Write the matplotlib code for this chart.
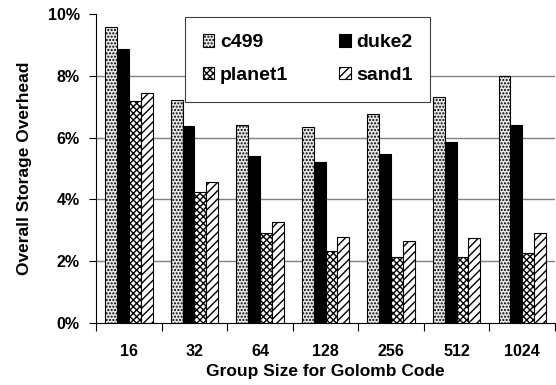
import matplotlib
matplotlib.use('Agg')
import matplotlib.pyplot as plt
import numpy as np

plt.rcParams['font.family'] = ['Liberation Sans', 'DejaVu Sans']
plt.rcParams['font.weight'] = 'bold'
plt.rcParams['hatch.linewidth'] = 1.0

groups = ['16', '32', '64', '128', '256', '512', '1024']
series = ['c499', 'duke2', 'planet1', 'sand1']
c499 = [9.57, 7.21, 6.40, 6.35, 6.75, 7.30, 8.00]
duke2 = [8.87, 6.37, 5.40, 5.22, 5.47, 5.87, 6.39]
planet1 = [7.19, 4.25, 2.90, 2.32, 2.15, 2.15, 2.28]
sand1 = [7.44, 4.57, 3.27, 2.77, 2.65, 2.74, 2.92]
values = [c499, duke2, planet1, sand1]

styles = [
    dict(facecolor='#e8e8e8', hatch='.....'),
    dict(facecolor='black', hatch=None),
    dict(facecolor='white', hatch='xxxxx'),
    dict(facecolor='white', hatch='////'),
]

fig = plt.figure(figsize=(5.56, 3.85), dpi=100)
ax = fig.add_axes([0.173, 0.161, 0.825, 0.803])

x = np.arange(len(groups))
w = 0.18
bars = []
for i, (name, vals, st) in enumerate(zip(series, values, styles)):
    b = ax.bar(x + (i - 1.5) * w, vals, w, label=name, edgecolor='black',
               linewidth=0.8, zorder=3, **st)
    bars.append(b)

for v in [2, 4, 6, 8]:
    ax.axhline(v, color='#808080', linewidth=1.0, zorder=1)

ax.set_ylim(0, 10)
ax.set_xlim(-0.5, len(groups) - 0.5)
ax.set_yticks([0, 2, 4, 6, 8, 10])
ax.set_yticklabels(['%d%%' % t for t in [0, 2, 4, 6, 8, 10]])
ax.set_xticks(x)
ax.set_xticklabels(groups)
ax.set_xticks(np.arange(len(groups) + 1) - 0.5, minor=True)
ax.tick_params(axis='x', which='major', length=0, pad=15, labelsize=11.5)
ax.tick_params(axis='x', which='minor', length=6, width=0.8, direction='out')
ax.tick_params(axis='y', length=5, width=0.8, direction='out', labelsize=11.5, pad=7)
for s in ['top', 'right']:
    ax.spines[s].set_visible(False)
ax.spines['left'].set_linewidth(0.8)
ax.spines['bottom'].set_linewidth(0.8)

ax.set_xlabel('Group Size for Golomb Code', fontsize=12.5, fontweight='bold', labelpad=4)
ax.set_ylabel('Overall Storage Overhead', fontsize=12.5, fontweight='bold', labelpad=11)

# legend rows: c499 / duke2, planet1 / sand1 (matplotlib fills by column)
order = [0, 2, 1, 3]
leg = ax.legend([bars[i] for i in order], [series[i] for i in order],
                ncol=2, loc='upper left', bbox_to_anchor=(0.194, 0.99),
                borderaxespad=0, fancybox=False, framealpha=1, edgecolor='#404040',
                handlelength=0.6, handleheight=0.6, handletextpad=0.3,
                columnspacing=2.6, labelspacing=0.8, borderpad=0.9,
                prop={'weight': 'bold', 'size': 14})
leg.set_zorder(5)
leg.get_frame().set_linewidth(0.8)

plt.savefig('out.png', dpi=100)
